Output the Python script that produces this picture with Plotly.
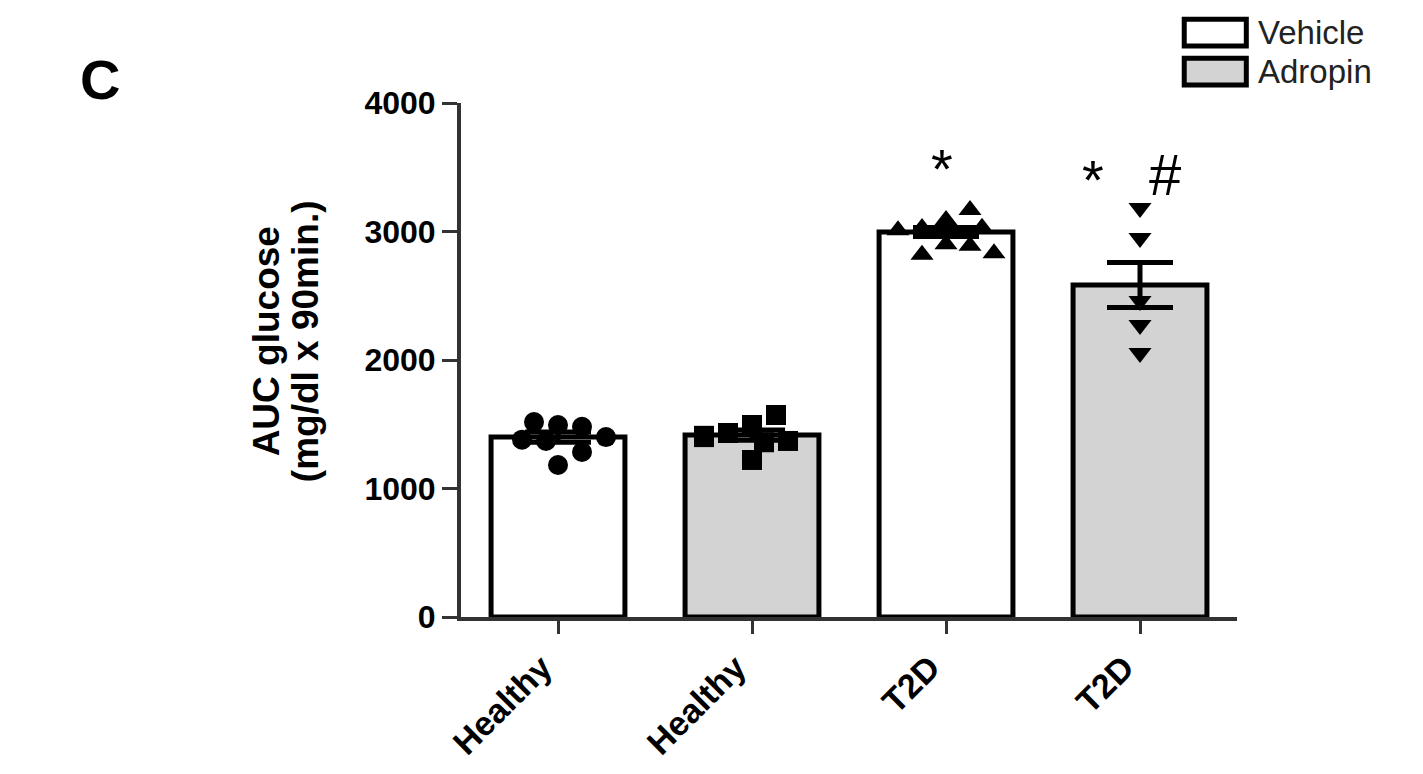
import numpy as np
import plotly.graph_objects as go

# ---------------- data ----------------
groups = ["Healthy", "Healthy", "T2D", "T2D"]
treatments = ["Vehicle", "Adropin", "Vehicle", "Adropin"]
means = [1400, 1416, 2996, 2584]
sems = [40, 40, 35, 175]

healthy_vehicle = [1494, 1480, 1517, 1183, 1284, 1380, 1370, 1400]
healthy_adropin = [1494, 1572, 1222, 1432, 1360, 1370, 1400, 1410]
t2d_vehicle = [3090, 3167, 3027, 3030, 3010, 2900, 2890, 2820, 2830]
t2d_adropin = [3183, 2949, 2272, 2054, 2460]

y_ticks = [0, 1000, 2000, 3000, 4000]
legend_labels = ["Vehicle", "Adropin"]
y_title_lines = ["AUC glucose", "(mg/dl x 90min.)"]
# (symbol, x position in category units, y value)
significance = [("*", 1.98, 3487), ("*", 2.76, 3408), ("#", 3.13, 3447)]

# ---------------- styling ----------------
FONT = "Arial, Liberation Sans, sans-serif"
fill_colors = {"Vehicle": "white", "Adropin": "#d3d3d3"}
AXIS_COLOR = "#333333"
W, H = 1423, 774
BODY = 8  # default page margin of the html body
ML, MT = 461 - BODY, 103 - BODY
PLOT_W, PLOT_H = 776, 514
MR = W - ML - PLOT_W
MB = H - MT - PLOT_H
X_RANGE = [-0.5, 3.5]
Y_RANGE = [0, 4000]
MSIZE = 20


def swarm_offsets(vals, d=MSIZE, max_off=0.3):
    """Simple beeswarm: shift points sideways so markers do not overlap."""
    xpx = PLOT_W / (X_RANGE[1] - X_RANGE[0])
    ypx = PLOT_H / (Y_RANGE[1] - Y_RANGE[0])
    step = (d * 0.6) / xpx
    placed = []
    offs = []
    for v in vals:
        cands = [0.0]
        k = 1
        while k * step <= max_off:
            cands += [k * step, -k * step]
            k += 1
        chosen = cands[-1]
        for c in cands:
            ok = True
            for (po, pv) in placed:
                dx = (c - po) * xpx
                dy = (v - pv) * ypx
                if dx * dx + dy * dy < (d * 0.95) ** 2:
                    ok = False
                    break
            if ok:
                chosen = c
                break
        placed.append((chosen, v))
        offs.append(chosen)
    return np.array(offs)


fig = go.Figure()

xpos = list(range(len(groups)))
fig.add_trace(go.Bar(
    x=xpos, y=means, width=0.69,
    marker=dict(color=[fill_colors[t] for t in treatments],
                line=dict(color="black", width=5)),
    error_y=dict(type="data", array=sems, visible=True,
                 color="black", thickness=5, width=33),
    showlegend=False, hoverinfo="skip",
))

point_sets = [healthy_vehicle, healthy_adropin, t2d_vehicle, t2d_adropin]
symbols = ["circle", "square", "triangle-up", "triangle-down"]
for i, (vals, sym) in enumerate(zip(point_sets, symbols)):
    offs = swarm_offsets(vals)
    fig.add_trace(go.Scatter(
        x=i + offs, y=vals, mode="markers",
        marker=dict(symbol=sym, size=MSIZE, color="black",
                    line=dict(width=0)),
        showlegend=False, hoverinfo="skip",
    ))

annotations = []
for txt, xv, yv in significance:
    annotations.append(dict(
        x=xv, y=yv, xref="x", yref="y", text=txt, showarrow=False,
        font=dict(family=FONT, size=56 if txt == "*" else 58, color="black"),
        xanchor="center", yanchor="middle"))

# y-axis title (two separately placed lines)
for line, xp in zip(y_title_lines, [-0.2495, -0.1995]):
    annotations.append(dict(
        x=xp, y=0.537, xref="paper", yref="paper", text=f"<b>{line}</b>",
        textangle=-90, showarrow=False, xanchor="center", yanchor="middle",
        font=dict(family=FONT, size=37, color="black")))

# panel letter
annotations.append(dict(
    x=-0.494, y=1.045, xref="paper", yref="paper", text="<b>C</b>",
    showarrow=False, xanchor="left", yanchor="middle",
    font=dict(family=FONT, size=56, color="black")))

# custom legend
shapes = []
leg_rows = [(1.163, 1.111), (1.087, 1.035)]
for lab, (ytop, ybot) in zip(legend_labels, leg_rows):
    shapes.append(dict(type="rect", xref="paper", yref="paper",
                       x0=0.932, x1=1.012, y0=ybot, y1=ytop,
                       fillcolor=fill_colors[lab],
                       line=dict(color="black", width=5)))
    annotations.append(dict(
        x=1.026, y=(ytop + ybot) / 2, xref="paper", yref="paper",
        text=lab, showarrow=False, xanchor="left", yanchor="middle",
        borderpad=0,
        font=dict(family=FONT, size=33, color="#222222")))

fig.update_layout(
    width=W, height=H,
    margin=dict(l=ML, r=MR, t=MT, b=MB, autoexpand=False),
    plot_bgcolor="white", paper_bgcolor="white",
    annotations=annotations, shapes=shapes,
    showlegend=False,
    xaxis=dict(range=X_RANGE, tickvals=xpos, ticktext=groups,
               tickangle=-45, showline=True, linecolor=AXIS_COLOR,
               linewidth=4, ticks="outside", ticklen=13, tickwidth=3,
               tickcolor=AXIS_COLOR, showgrid=False, zeroline=False,
               ticklabelshift=-16,
               tickfont=dict(family=FONT, size=34, color="black",
                             weight="bold")),
    yaxis=dict(range=Y_RANGE, tickvals=y_ticks,
               ticktext=[str(t) for t in y_ticks],
               showline=True, linecolor=AXIS_COLOR, linewidth=4,
               ticks="outside", ticklen=15, tickwidth=3,
               tickcolor=AXIS_COLOR, showgrid=False, zeroline=False,
               tickfont=dict(family=FONT, size=32, color="black",
                             weight="bold")),
)

fig.write_html("out.html")
